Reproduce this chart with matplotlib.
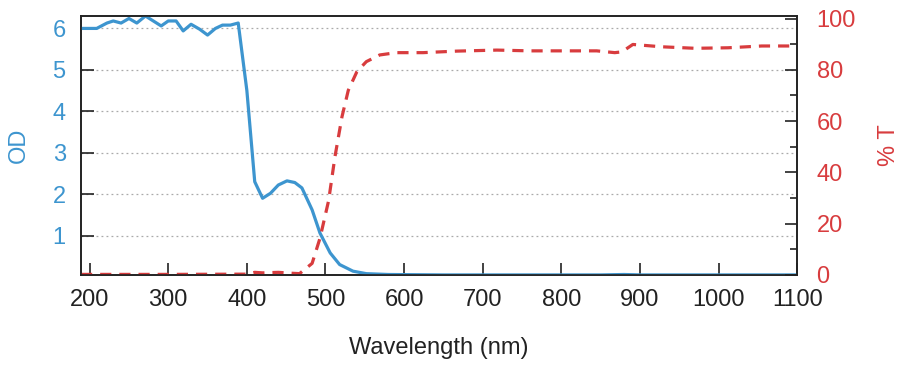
import matplotlib
matplotlib.use("Agg")
import matplotlib.pyplot as plt
import numpy as np

# OD curve (left axis)
od_wl = [189, 209, 222, 230, 240, 250, 260, 271, 281, 291, 300, 310, 319, 329,
         340, 350, 360, 369, 379, 389, 400, 410, 420, 430, 440, 451, 461, 470,
         483, 493, 506, 518, 535, 552, 580, 650, 750, 850, 880, 900, 1000, 1100]
od = [6.0, 6.0, 6.13, 6.18, 6.13, 6.24, 6.13, 6.3, 6.18, 6.06, 6.18, 6.18, 5.94, 6.1,
      5.98, 5.84, 6.0, 6.08, 6.08, 6.13, 4.5, 2.3, 1.9, 2.02, 2.22, 2.32, 2.28, 2.15,
      1.62, 1.06, 0.58, 0.30, 0.14, 0.08, 0.06, 0.05, 0.05, 0.05, 0.06, 0.05, 0.05, 0.05]

# transmission curve (right axis)
t_wl = [189, 300, 400, 410, 420, 440, 460, 467, 483, 493, 504, 512, 521, 529, 540,
        552, 569, 590, 624, 667, 718, 760, 802, 845, 868, 877, 891, 927, 970,
        1012, 1055, 1100]
t = [0.2, 0.2, 0.3, 1.0, 0.8, 1.0, 0.6, 0.5, 4.5, 14.3, 29, 46, 61.7, 72, 79.3,
     83.2, 85.8, 86.7, 86.7, 87.3, 87.7, 87.4, 87.4, 87.4, 86.7, 87.0, 89.9, 89.0,
     88.4, 88.6, 89.3, 89.3]

blue = "#3d95cf"
red = "#d83c3e"

plt.rcParams['font.family'] = ['Liberation Sans', 'DejaVu Sans']

fig = plt.figure(figsize=(9.1, 3.72), dpi=100)
ax = fig.add_axes([0.089, 0.261, 0.787, 0.696])
ax2 = ax.twinx()

ax.plot(od_wl, od, color=blue, lw=2.3, zorder=3)
ax2.plot(t_wl, t, color=red, lw=2.3, dashes=(3.5, 2.5))

ax.set_xlim(189, 1100)
ax.set_ylim(0.05, 6.3)
ax2.set_ylim(0, 101)

ax.set_xticks(range(200, 1101, 100))
ax.set_yticks([1, 2, 3, 4, 5, 6])
ax2.set_yticks(range(0, 101, 20))
ax2.set_yticks(range(10, 100, 20), minor=True)

ax.grid(axis='y', color='#aaaaaa', linestyle=(0, (1.5, 2.5)), lw=0.9)

ax.tick_params(axis='x', direction='in', length=9, width=1.2, pad=10,
               labelsize=17, colors='#222222')
ax.tick_params(axis='y', direction='in', length=9, width=1.2, pad=11,
               labelsize=17, labelcolor=blue, color='#222222')
ax2.tick_params(axis='y', which='major', direction='in', length=9, width=1.2,
                pad=14, labelsize=17, labelcolor=red, color='#222222')
ax2.tick_params(axis='y', which='minor', direction='in', length=5, width=1.2,
                color='#222222')

for a in (ax, ax2):
    for s in a.spines.values():
        s.set_color('#222222')
        s.set_linewidth(1.2)

ax.set_xlabel('Wavelength (nm)', fontsize=17, color='#222222', labelpad=19)
ax.set_ylabel('OD', fontsize=17, color=blue, labelpad=16)
ax2.set_ylabel('% T', fontsize=17, color=red, rotation=90, labelpad=16)

fig.savefig("out.png", dpi=100)
